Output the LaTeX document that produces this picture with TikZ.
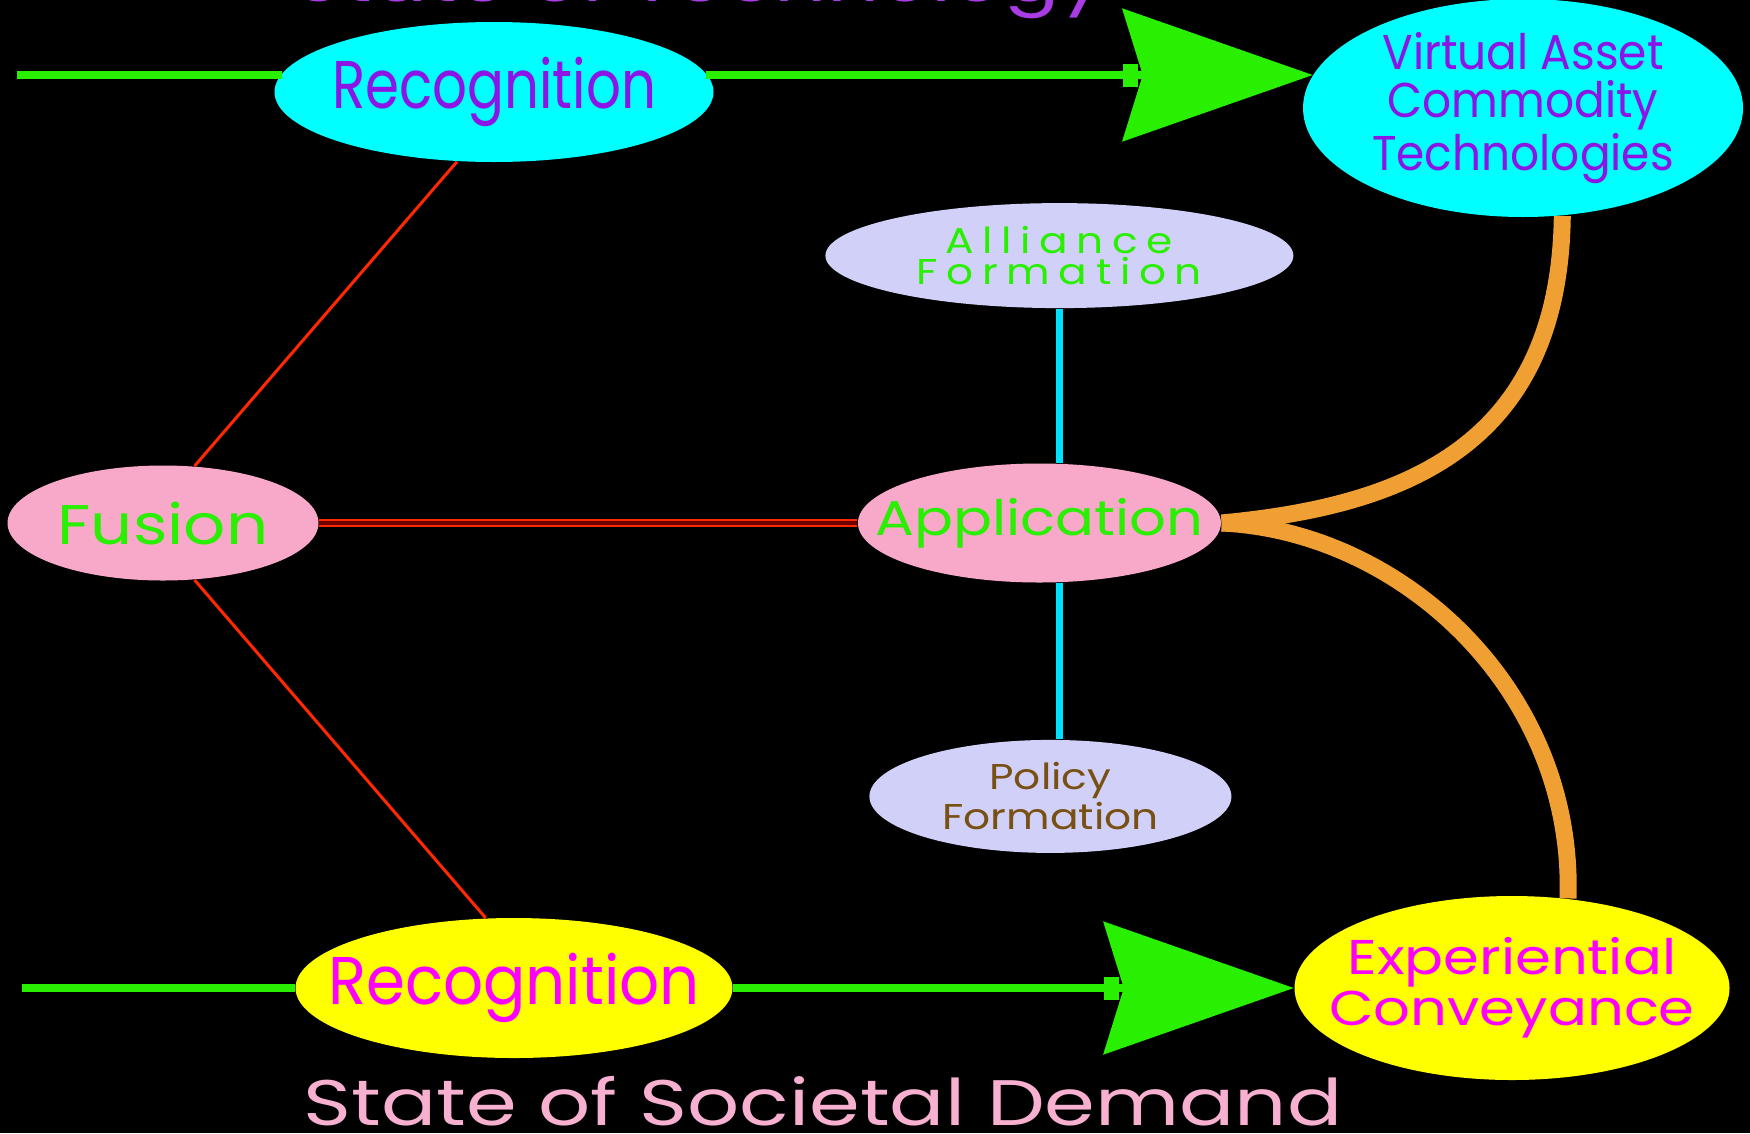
\documentclass[tikz,border=0pt]{standalone}
\usepackage{fontspec}
\setmainfont{Poppins}
\newfontfamily\narrowfont[FakeStretch=0.81]{Poppins}
\newfontfamily\plainfont[FakeStretch=0.93]{Poppins}
\newfontfamily\widefont[FakeStretch=1.18]{Poppins}
\newfontfamily\titlefont[FakeStretch=1.27]{Poppins}
\newfontfamily\spacedfont[FakeStretch=1.18,LetterSpace=24]{Poppins}
\usetikzlibrary{shapes.geometric,arrows.meta,positioning,calc}

\definecolor{techcyan}{RGB}{0,255,255}
\definecolor{techpurple}{RGB}{140,20,230}
\definecolor{titlepurple}{RGB}{170,60,230}
\definecolor{lavender}{RGB}{208,208,248}
\definecolor{softpink}{RGB}{248,168,200}
\definecolor{titlepink}{RGB}{248,176,208}
\definecolor{brightgreen}{RGB}{40,240,0}
\definecolor{societyyellow}{RGB}{255,255,0}
\definecolor{societymagenta}{RGB}{255,0,255}
\definecolor{linkorange}{RGB}{240,160,50}
\definecolor{linkred}{RGB}{255,40,0}
\definecolor{linkcyan}{RGB}{0,224,255}
\definecolor{policybrown}{RGB}{120,80,20}

\begin{document}
\begin{tikzpicture}[
    oval/.style={ellipse, inner sep=-1.5cm, align=center},
    techoval/.style={oval, fill=techcyan, text=techpurple},
    societyoval/.style={oval, fill=societyyellow, text=societymagenta},
    pinkoval/.style={oval, fill=softpink, text=brightgreen},
    formoval/.style={oval, fill=lavender},
    flow/.style={draw=brightgreen, line width=0.08cm},
    bigtip/.style={-{Stealth[length=1.9cm, width=1.32cm, inset=0.2cm]}},
    redlink/.style={draw=linkred, line width=0.03cm},
    cyanlink/.style={draw=linkcyan, line width=0.07cm},
    orangelink/.style={draw=linkorange, line width=0.17cm}
]
    % page
    \fill[black] (0,0) rectangle (17.5,11.33);
    \useasboundingbox (0,0) rectangle (17.5,11.33);

    % Titles
    \node[anchor=base, text=titlepurple, font=\titlefont\fontsize{18.3}{18.3}\selectfont] (techtitle) at (7.0,11.32) {State of Technology};
    \node[anchor=base, text=titlepink, font=\titlefont\fontsize{18.3}{18.3}\selectfont] (demandtitle) at (8.23,0.08) {State of Societal Demand};

    % Technology row
    \node[techoval, minimum width=4.39cm, minimum height=1.40cm, font=\narrowfont\fontsize{19.2}{19.2}\selectfont] (rectop) at (4.94,10.41) {Recognition};
    \node[techoval, minimum width=4.40cm, minimum height=2.18cm, font=\plainfont\fontsize{13.9}{13.7}\selectfont] (vac) at (15.23,10.25) {Virtual Asset\\Commodity\\Technologies};

    % Middle row
    \node[pinkoval, minimum width=3.11cm, minimum height=1.15cm, font=\widefont\fontsize{15.9}{15.9}\selectfont] (fusion) at (1.63,6.10) {Fusion};
    \node[pinkoval, minimum width=3.63cm, minimum height=1.19cm, font=\widefont\fontsize{13.9}{13.9}\selectfont, right=5.38cm of fusion] (app) {Application};
    \node[formoval, text=brightgreen, minimum width=4.68cm, minimum height=1.05cm, font=\spacedfont\fontsize{10.2}{8.9}\selectfont, above=1.54cm of app, xshift=0.2cm] (alliance) {Alliance\\Formation};
    \node[formoval, text=policybrown, minimum width=3.62cm, minimum height=1.13cm, font=\widefont\fontsize{10.2}{8.9}\selectfont, below=1.56cm of app, xshift=0.11cm] (policy) {Policy\\Formation};

    % Demand row
    \node[societyoval, minimum width=4.37cm, minimum height=1.40cm, font=\plainfont\fontsize{19.2}{19.2}\selectfont] (recbot) at (5.14,1.45) {Recognition};
    \node[societyoval, minimum width=4.35cm, minimum height=1.84cm, font=\widefont\fontsize{13.9}{12.7}\selectfont] (expconv) at (15.12,1.45) {Experiential\\Conveyance};

    % Flow lines
    \coordinate (techstart) at (0.17,10.58);
    \coordinate (demandstart) at (0.22,1.45);
    \draw[flow] (techstart) -- (rectop.175 |- techstart);
    \draw[flow, bigtip] (rectop.5 |- techstart) -- (vac.171 |- techstart);
    \draw[flow] (demandstart) -- (recbot.west);
    \draw[flow, bigtip] (recbot.east) -- (expconv.west);
    \fill[brightgreen] ($(vac.171 |- techstart)+(-1.9,-0.115)$) rectangle ++(0.15,0.23);
    \fill[brightgreen] ($(expconv.west)+(-1.9,-0.115)$) rectangle ++(0.15,0.23);

    % Links
    \draw[redlink] (fusion.61) -- (rectop.-118);
    \draw[redlink] (fusion.-61) -- (recbot.112);
    \draw[draw=linkred, double={rgb,255:red,110;green,0;blue,0}, line width=0.5pt, double distance=1.2pt] (fusion) -- (app);
    \draw[cyanlink] (alliance.south) -- (alliance.south |- app.north);
    \draw[cyanlink] (alliance.south |- app.south) -- (alliance.south |- policy.north);
    \draw[orangelink] (app.east) .. controls +(1.8,0.17) and +(-0.03,-2.32) .. (vac.-70);
    \draw[orangelink] (app.east) .. controls +(1.8,-0.08) and +(0.07,2.08) .. (expconv.58);
\end{tikzpicture}
\end{document}
